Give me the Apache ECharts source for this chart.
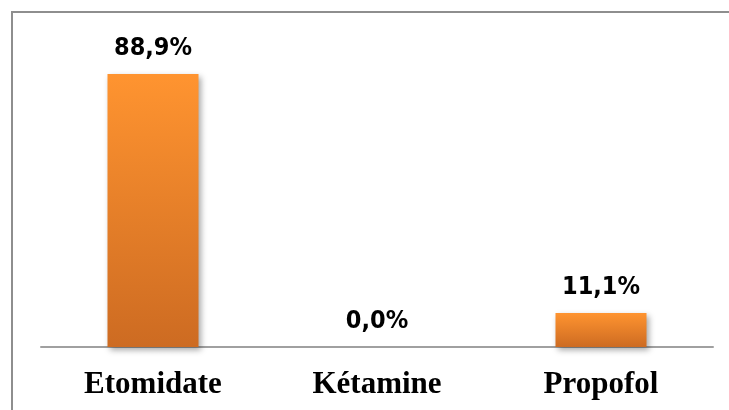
<!DOCTYPE html>
<html>
<head>
<meta charset="utf-8">
<script src="https://cdn.jsdelivr.net/npm/echarts@6/dist/echarts.min.js"></script>
<style>
html,body{margin:0;padding:0;background:#fff;}
#chart{width:729px;height:410px;}
</style>
</head>
<body>
<div id="chart"></div>
<script>
const categories = ['Etomidate', 'Kétamine', 'Propofol'];
const percentValues = [88.9, 0.0, 11.1];
const yMax = 100;

const chart = echarts.init(document.getElementById('chart'));
chart.setOption({
  backgroundColor: '#ffffff',
  animation: false,
  graphic: [{
    type: 'rect',
    shape: { x: 12, y: 12, width: 900, height: 600 },
    style: { fill: 'none', stroke: '#8e8e8e', lineWidth: 2 },
    silent: true
  }],
  grid: { left: 41, right: 16, top: 40, bottom: 63, containLabel: false },
  xAxis: {
    type: 'category',
    data: categories,
    axisLine: { show: true, lineStyle: { color: '#a0a0a0', width: 2 } },
    axisTick: { show: false },
    axisLabel: {
      color: '#000',
      fontFamily: "'Liberation Serif', 'Times New Roman', serif",
      fontWeight: 'bold',
      fontSize: 31,
      margin: 22
    }
  },
  yAxis: {
    type: 'value',
    min: 0,
    max: yMax,
    show: false,
    splitLine: { show: false }
  },
  series: [{
    type: 'bar',
    data: percentValues,
    barWidth: 91,
    itemStyle: {
      color: new echarts.graphic.LinearGradient(0, 0, 0, 1, [
        { offset: 0, color: '#ff9430' },
        { offset: 1, color: '#cd6b22' }
      ]),
      shadowColor: 'rgba(0,0,0,0.35)',
      shadowBlur: 6,
      shadowOffsetX: 2,
      shadowOffsetY: 3
    },
    label: {
      show: true,
      position: 'top',
      distance: 13,
      color: '#000',
      fontFamily: "'DejaVu Sans Condensed', 'Liberation Sans Narrow', 'Open Sans', sans-serif",
      fontWeight: 'bold',
      fontSize: 25,
      formatter: function (p) { return p.value.toFixed(1).replace('.', ',') + '%'; }
    }
  }]
});
</script>
</body>
</html>
